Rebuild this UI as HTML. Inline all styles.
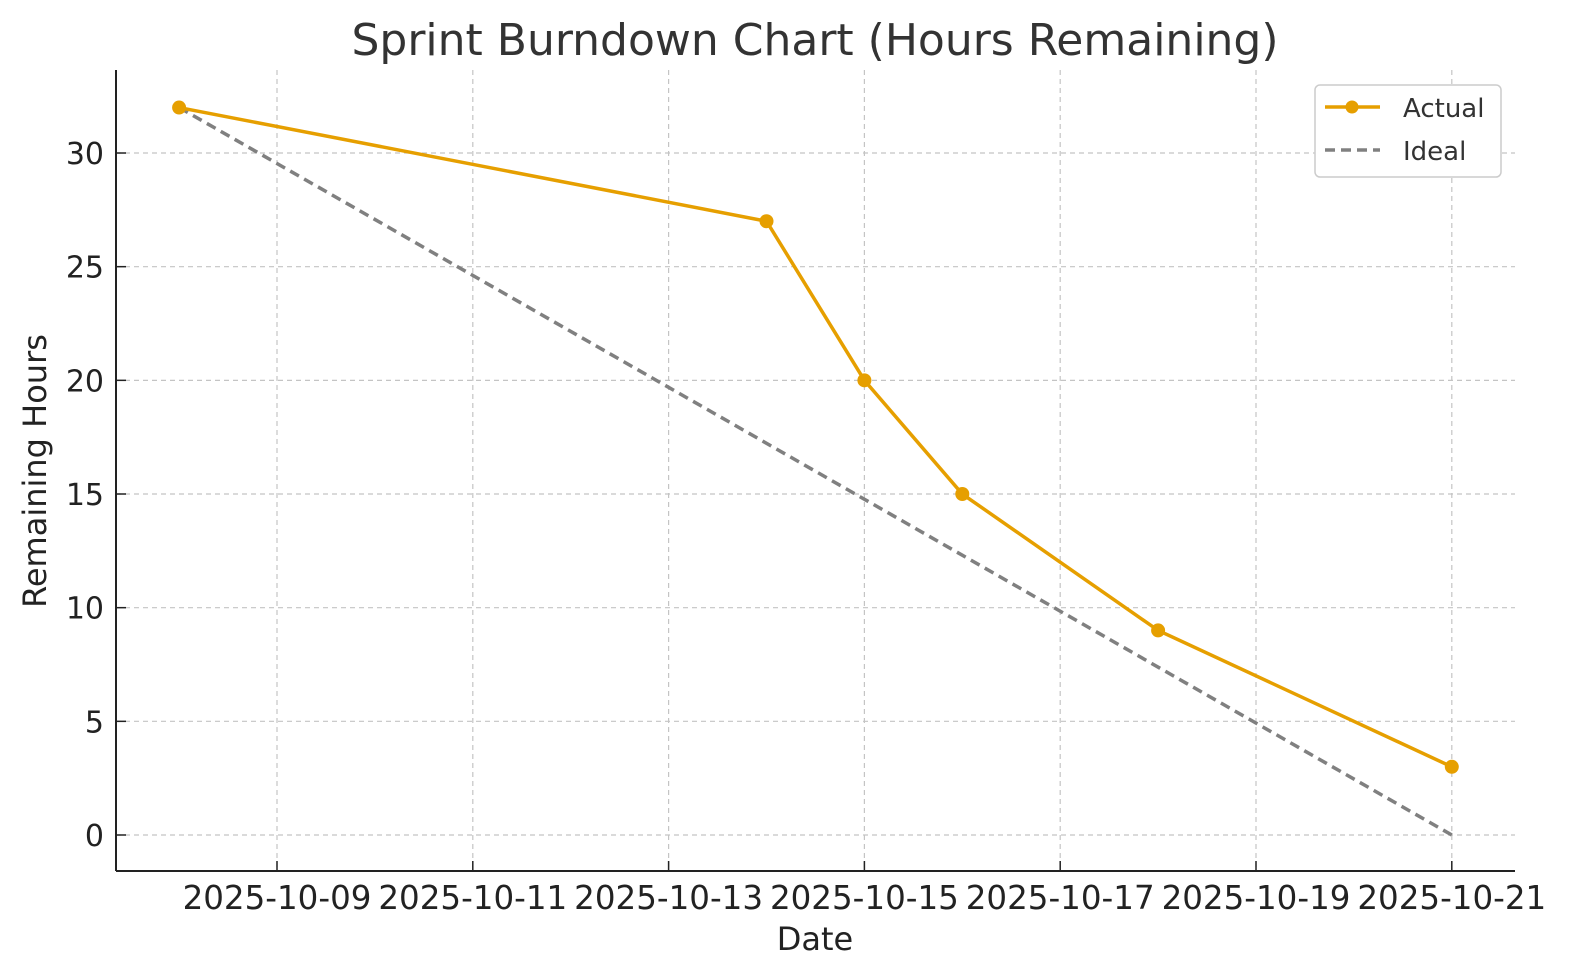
<!DOCTYPE html>
<html><head><meta charset="utf-8"><style>
body{margin:0;background:#fff;}
svg{display:block;font-family:"DejaVu Sans","Liberation Sans",sans-serif;}
</style></head><body>
<svg id="chart" width="1572" height="980">
<text x="815" y="55" text-anchor="middle" font-size="44" fill="#333">Sprint Burndown Chart (Hours Remaining)</text>
<g id="grid"></g><g id="axes"></g><g id="series"></g>
<text x="815" y="950" text-anchor="middle" font-size="32" fill="#222">Date</text>
<text transform="translate(46,471) rotate(-90)" text-anchor="middle" font-size="32" fill="#222">Remaining Hours</text>
<g>
<rect x="1315" y="85" width="186" height="92" rx="5" fill="#fff" stroke="#ccc" stroke-width="1.5"/>
<line x1="1325" y1="107" x2="1380" y2="107" stroke="#E69F00" stroke-width="3.5"/>
<circle cx="1352" cy="107" r="6.5" fill="#E69F00"/>
<text x="1403" y="117" font-size="26" fill="#333">Actual</text>
<line x1="1325" y1="150" x2="1380" y2="150" stroke="#808080" stroke-width="3.5" stroke-dasharray="10,6"/>
<text x="1403" y="160" font-size="26" fill="#333">Ideal</text>
</g>
</svg>
<script>
const actualDays=[8,14,15,16,18,21];
const actualHours=[32,27,20,15,9,3];
const idealDays=[8,21];
const idealHours=[32,0];
const xTickDays=[9,11,13,15,17,19,21];
const xTickLabels=["2025-10-09","2025-10-11","2025-10-13","2025-10-15","2025-10-17","2025-10-19","2025-10-21"];
const yTicks=[0,5,10,15,20,25,30];
const NS="http://www.w3.org/2000/svg";
const X=d=>277+(d-9)*97.9;
const Y=v=>835-v*22.733;
function mk(p,t,a){const e=document.createElementNS(NS,t);for(const k in a)e.setAttribute(k,a[k]);p.appendChild(e);return e;}
const grid=document.getElementById('grid'),axes=document.getElementById('axes'),ser=document.getElementById('series');
xTickDays.forEach((d,i)=>{
 const g=mk(grid,'line',{x1:X(d),x2:X(d),y1:70,y2:871,stroke:'#c4c4c4','stroke-dasharray':'5,4','stroke-width':1.2});
 
 
 mk(axes,'line',{x1:X(d),x2:X(d),y1:861,y2:871,stroke:'#222','stroke-width':1.5});
 const t=mk(axes,'text',{x:X(d),y:909,'text-anchor':'middle','font-size':32.5,fill:'#222'});
 t.textContent=xTickLabels[i];
 
 
});
yTicks.forEach(v=>{
 const g=mk(grid,'line',{x1:116,x2:1515,y1:Y(v),y2:Y(v),stroke:'#c4c4c4','stroke-dasharray':'5,4','stroke-width':1.2});
 
 
 mk(axes,'line',{x1:116,x2:126,y1:Y(v),y2:Y(v),stroke:'#222','stroke-width':1.5});
 const t=mk(axes,'text',{x:104,y:Y(v)+11,'text-anchor':'end','font-size':30,fill:'#222'});
 t.textContent=v;
 
 
});
mk(axes,'line',{x1:116,x2:116,y1:70,y2:871,stroke:'#222','stroke-width':2});
mk(axes,'line',{x1:116,x2:1515,y1:871,y2:871,stroke:'#222','stroke-width':2});
const ideal=mk(ser,'polyline',{points:idealDays.map((d,i)=>X(d)+','+Y(idealHours[i])).join(' '),fill:'none',stroke:'#808080','stroke-width':3.5,'stroke-dasharray':'10,6'});


const act=mk(ser,'polyline',{points:actualDays.map((d,i)=>X(d)+','+Y(actualHours[i])).join(' '),fill:'none',stroke:'#E69F00','stroke-width':3.5});


actualDays.forEach((d,i)=>{
 const c=mk(ser,'circle',{cx:X(d),cy:Y(actualHours[i]),r:7,fill:'#E69F00'});
 
 
});
</script>
</body></html>
